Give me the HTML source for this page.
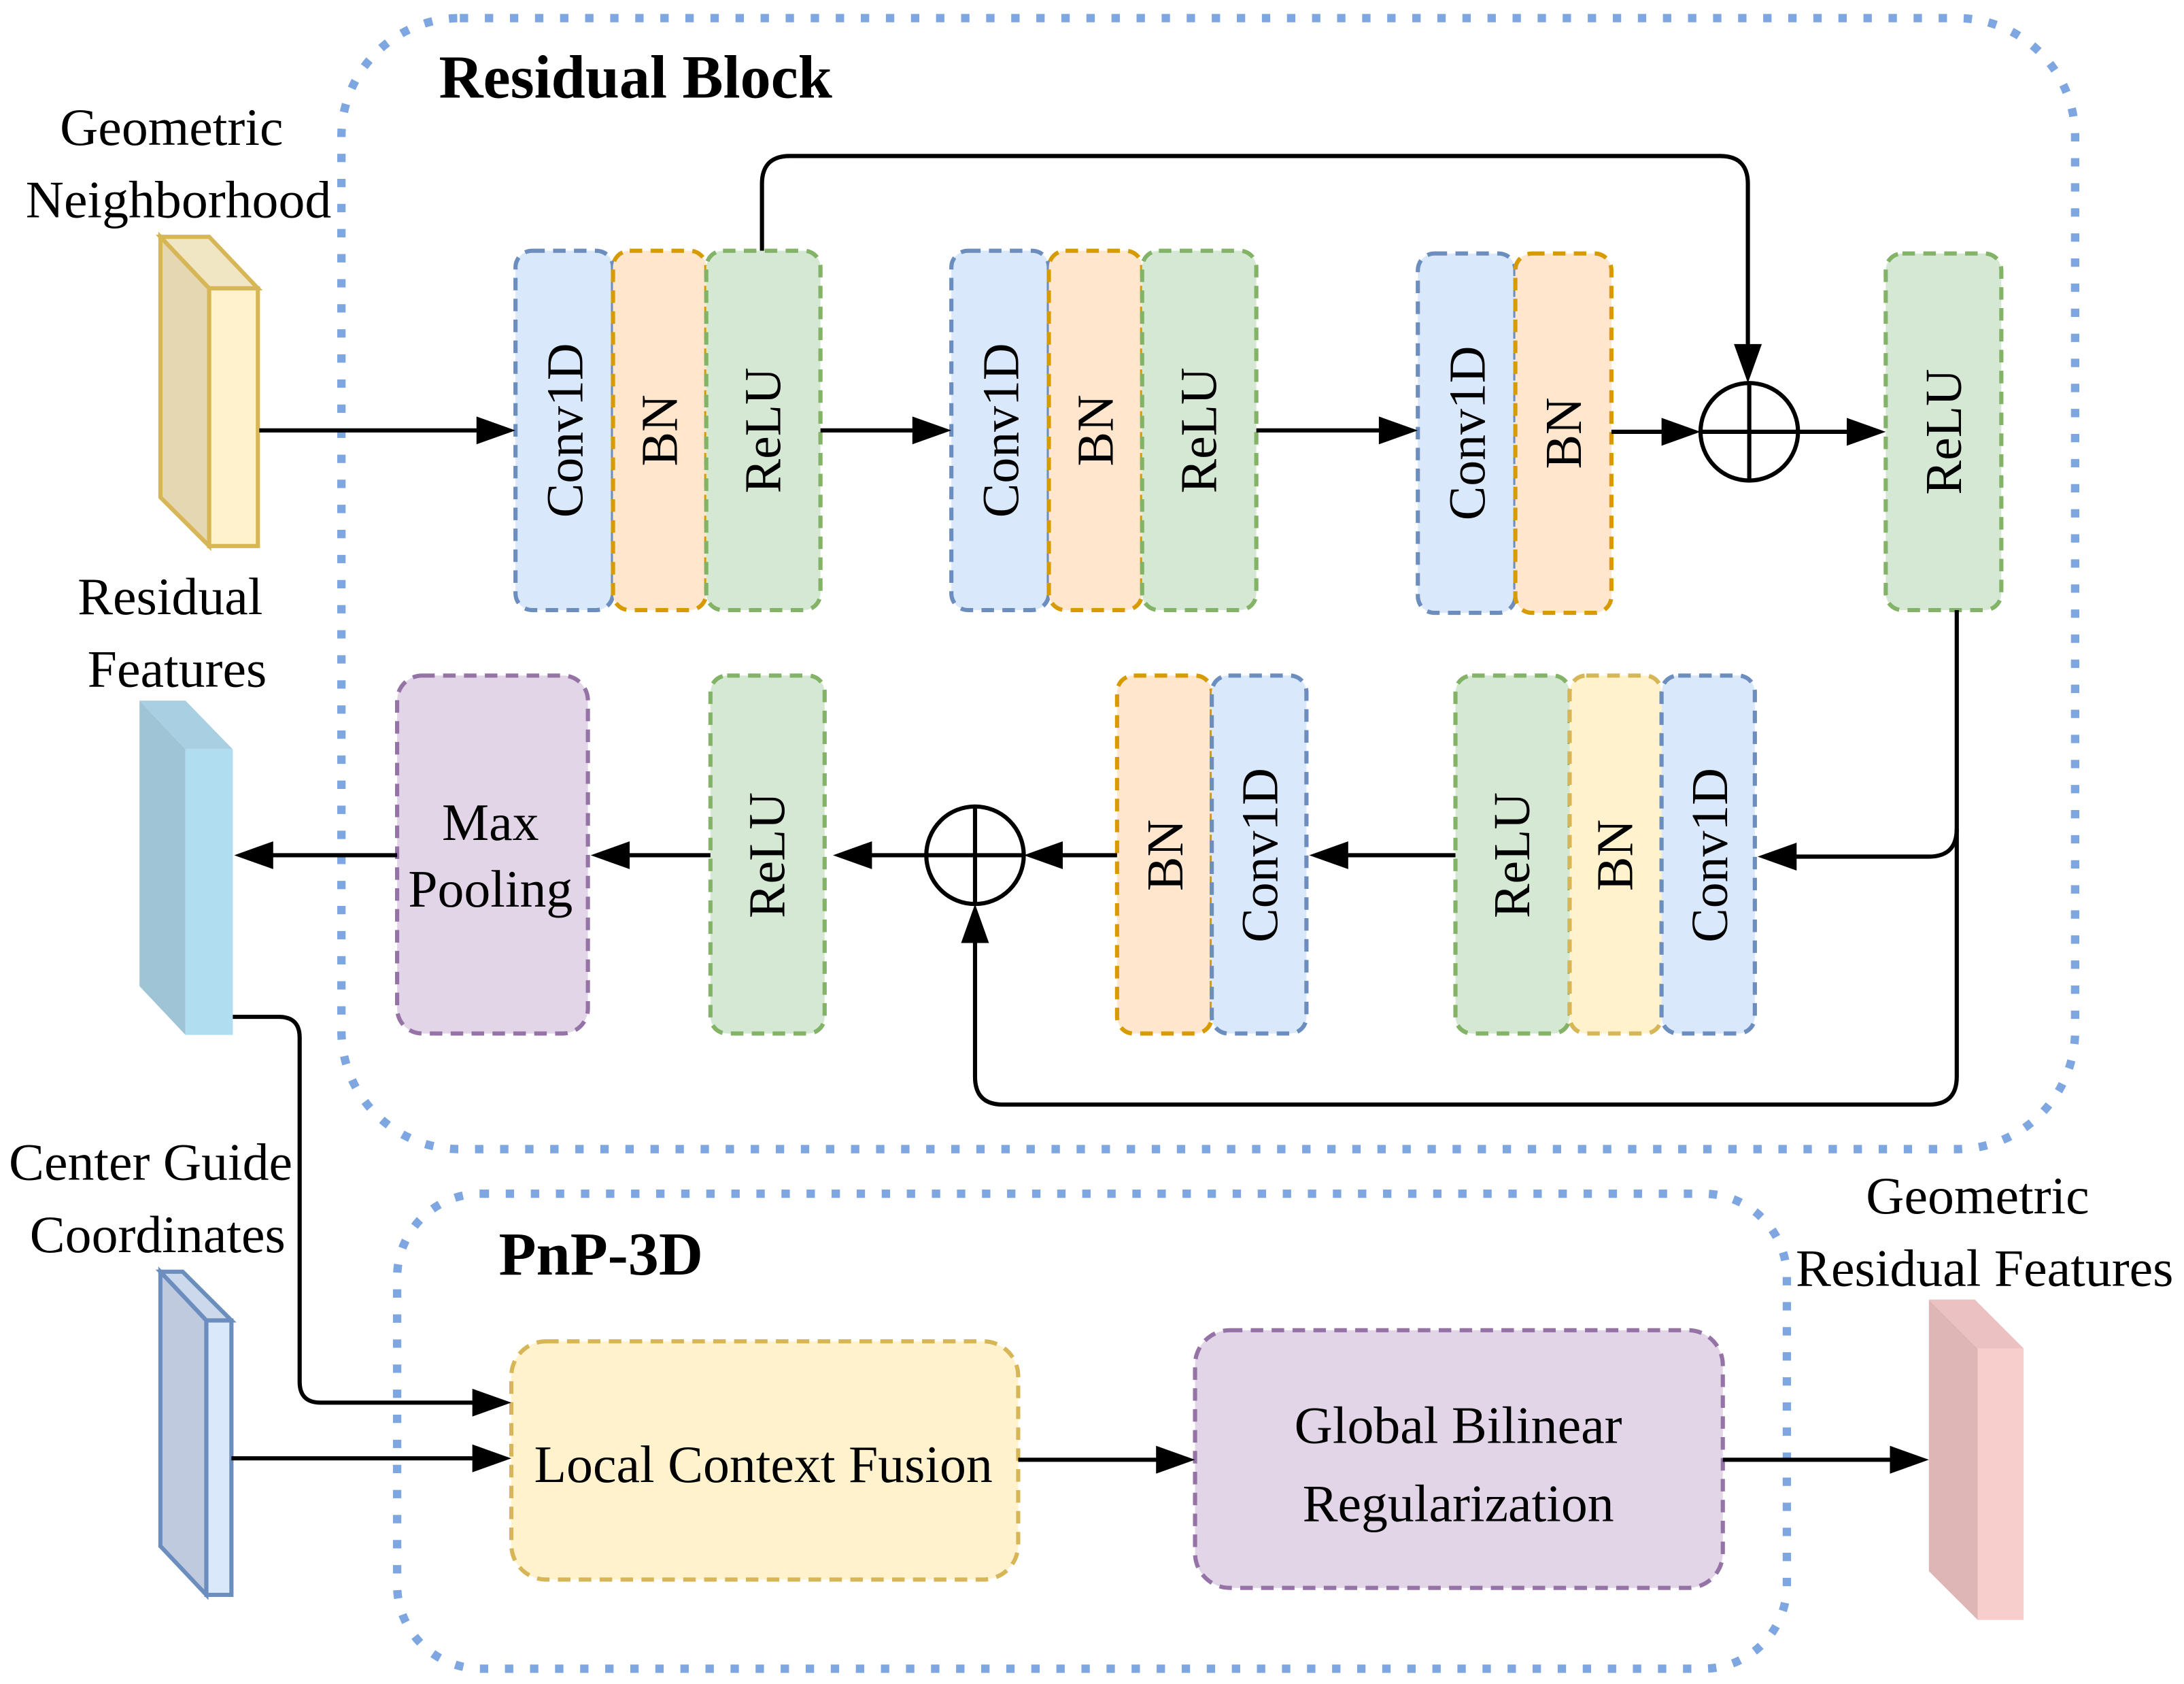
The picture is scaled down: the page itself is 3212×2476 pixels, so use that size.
<!DOCTYPE html>
<html><head><style>html,body{margin:0;padding:0;background:#fff}svg{display:block}
svg text{font-family:"Liberation Serif","DejaVu Serif",serif}</style></head>
<body>
<svg width="3212" height="2476" viewBox="0 0 1568 1209" xmlns="http://www.w3.org/2000/svg">
<style>
.t{font-size:38px;fill:#000}
.v{font-size:37px;fill:#000}
.ln{stroke:#000;stroke-width:3;fill:none}
.bl{fill:#dae8fc;stroke:#6c8ebf}
.or{fill:#ffe6cc;stroke:#d79b00}
.gr{fill:#d5e8d4;stroke:#82b366}
.pu{fill:#e1d5e7;stroke:#9673a6}
.ye{fill:#fff2cc;stroke:#d6b656}
.b{stroke-width:3;stroke-dasharray:9,6}
</style>
<rect x="245" y="13" width="1245" height="812" rx="85" fill="none" stroke="#7ea6e0" stroke-width="6" stroke-dasharray="6,12"/>
<rect x="285" y="857" width="998" height="341" rx="60" fill="none" stroke="#7ea6e0" stroke-width="6" stroke-dasharray="6,12"/>
<text x="315" y="70" font-size="44" font-weight="bold">Residual Block</text>
<text x="358" y="915" font-size="44" font-weight="bold">PnP-3D</text>

<text class="t" x="123" y="104" text-anchor="middle">Geometric</text>
<text class="t" x="128" y="156" text-anchor="middle">Neighborhood</text>
<text class="t" x="122" y="441" text-anchor="middle">Residual</text>
<text class="t" x="127" y="493" text-anchor="middle">Features</text>
<text class="t" x="108" y="847" text-anchor="middle">Center Guide</text>
<text class="t" x="113" y="899" text-anchor="middle">Coordinates</text>
<text class="t" x="1420" y="871" text-anchor="middle">Geometric</text>
<text class="t" x="1425" y="923" text-anchor="middle">Residual Features</text>

<g stroke="#d6b656" stroke-width="3">
<polygon points="115,170 150,207 150,392 115,357" fill="#e6d7b3"/>
<polygon points="115,170 150,170 185,207 150,207" fill="#f1e6c4"/>
<rect x="150" y="207" width="35" height="185" fill="#fff2cc"/>
</g>
<g>
<polygon points="100,503 133,538 133,743 100,708" fill="#9fc4d6"/>
<polygon points="100,503 133,503 167,538 133,538" fill="#a8cfe2"/>
<rect x="133" y="538" width="34" height="205" fill="#b1ddf0"/>
</g>
<g stroke="#6c8ebf" stroke-width="3">
<polygon points="115,913 148,948 148,1145 115,1110" fill="#c0cadf"/>
<polygon points="115,913 131,913 166,948 148,948" fill="#ccd8ec"/>
<rect x="148" y="948" width="18" height="197" fill="#dae8fc"/>
</g>
<g>
<polygon points="1385,933 1420,968 1420,1163 1385,1128" fill="#dfb6b6"/>
<polygon points="1385,933 1418,933 1453,968 1420,968" fill="#ebc2c1"/>
<rect x="1420" y="968" width="33" height="195" fill="#f8cecc"/>
</g>

<rect class="bl b" x="370" y="180" width="70" height="258" rx="12"/>
<rect class="or b" x="440" y="180" width="67" height="258" rx="12"/>
<rect class="gr b" x="507" y="180" width="82" height="258" rx="12"/>
<rect class="bl b" x="683" y="180" width="70" height="258" rx="12"/>
<rect class="or b" x="753" y="180" width="67" height="258" rx="12"/>
<rect class="gr b" x="820" y="180" width="82" height="258" rx="12"/>
<rect class="bl b" x="1018" y="182" width="70" height="258" rx="12"/>
<rect class="or b" x="1088" y="182" width="69" height="258" rx="12"/>
<rect class="gr b" x="1354" y="182" width="83" height="256" rx="12"/>
<g class="v" text-anchor="middle">
<text transform="translate(418,309) rotate(-90)">Conv1D</text>
<text transform="translate(486,309) rotate(-90)">BN</text>
<text transform="translate(560,309) rotate(-90)">ReLU</text>
<text transform="translate(731,309) rotate(-90)">Conv1D</text>
<text transform="translate(799,309) rotate(-90)">BN</text>
<text transform="translate(873,309) rotate(-90)">ReLU</text>
<text transform="translate(1066,311) rotate(-90)">Conv1D</text>
<text transform="translate(1135,311) rotate(-90)">BN</text>
<text transform="translate(1408,310) rotate(-90)">ReLU</text>
</g>
<circle cx="1256" cy="310" r="35" class="ln"/>
<path class="ln" d="M1221,310H1291M1256,275V345"/>

<rect class="pu b" x="285" y="485" width="137" height="257" rx="18"/>
<rect class="gr b" x="510" y="485" width="82" height="257" rx="12"/>
<rect class="or b" x="802" y="485" width="68" height="257" rx="12"/>
<rect class="bl b" x="870" y="485" width="68" height="257" rx="12"/>
<rect class="gr b" x="1045" y="485" width="82" height="257" rx="12"/>
<rect class="ye b" x="1127" y="485" width="66" height="257" rx="12"/>
<rect class="bl b" x="1193" y="485" width="67" height="257" rx="12"/>
<text class="t" x="352" y="603" text-anchor="middle">Max</text>
<text class="t" x="352" y="651" text-anchor="middle">Pooling</text>
<g class="v" text-anchor="middle">
<text transform="translate(563,614) rotate(-90)">ReLU</text>
<text transform="translate(849,614) rotate(-90)">BN</text>
<text transform="translate(917,614) rotate(-90)">Conv1D</text>
<text transform="translate(1098,614) rotate(-90)">ReLU</text>
<text transform="translate(1172,614) rotate(-90)">BN</text>
<text transform="translate(1240,614) rotate(-90)">Conv1D</text>
</g>
<circle cx="700" cy="614" r="35" class="ln"/>
<path class="ln" d="M665,614H735M700,579V649"/>

<rect class="ye b" x="367" y="963" width="364" height="171" rx="25"/>
<rect class="pu b" x="858" y="955" width="379" height="185" rx="25"/>
<text class="t" x="548" y="1064" text-anchor="middle">Local Context Fusion</text>
<text class="t" x="1047" y="1036" text-anchor="middle">Global Bilinear</text>
<text class="t" x="1047" y="1092" text-anchor="middle">Regularization</text>

<g class="ln">
<path d="M186,309H345"/>
<path d="M589,309H658"/>
<path d="M902,309H993"/>
<path d="M1157,310H1196"/>
<path d="M1291,310H1329"/>
<path d="M547,180V132Q547,112 567,112H1235Q1255,112 1255,132V250"/>
<path d="M1405,438V595Q1405,615 1385,615H1287"/>
<path d="M1405,595V773Q1405,793 1385,793H720Q700,793 700,773V675"/>
<path d="M1045,614H965"/>
<path d="M802,614H760"/>
<path d="M665,614H623"/>
<path d="M510,614H449"/>
<path d="M285,614H193"/>
<path d="M167,730H200Q215,730 215,745V992Q215,1007 230,1007H342"/>
<path d="M166,1047H342"/>
<path d="M731,1048H833"/>
<path d="M1237,1048H1360"/>
</g>
<g fill="#000">
<polygon points="370,309 342,299 342,319"/>
<polygon points="683,309 655,299 655,319"/>
<polygon points="1018,309 990,299 990,319"/>
<polygon points="1221,310 1193,300 1193,320"/>
<polygon points="1354,310 1326,300 1326,320"/>
<polygon points="1255,275 1245,247 1265,247"/>
<polygon points="1262,615 1290,605 1290,625"/>
<polygon points="700,649 690,677 710,677"/>
<polygon points="940,614 968,604 968,624"/>
<polygon points="735,614 763,604 763,624"/>
<polygon points="598,614 626,604 626,624"/>
<polygon points="424,614 452,604 452,624"/>
<polygon points="168,614 196,604 196,624"/>
<polygon points="367,1007 339,997 339,1017"/>
<polygon points="367,1047 339,1037 339,1057"/>
<polygon points="858,1048 830,1038 830,1058"/>
<polygon points="1385,1048 1357,1038 1357,1058"/>
</g>
</svg>
</body></html>
